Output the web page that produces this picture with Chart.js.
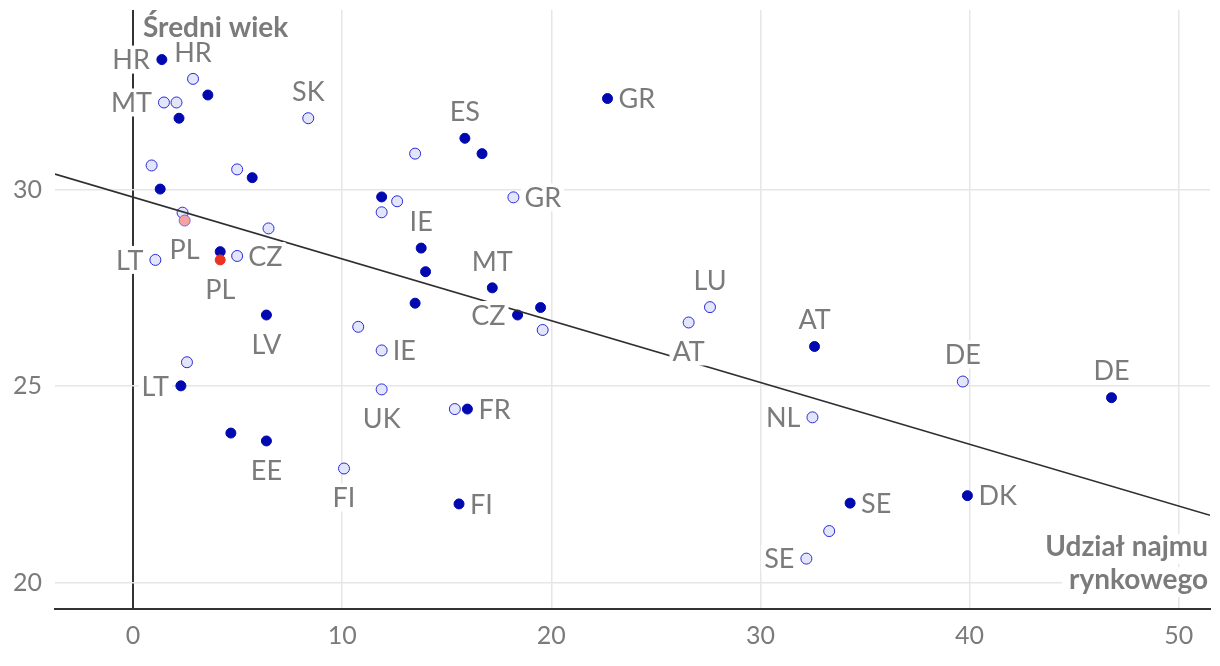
<!DOCTYPE html>
<html>
<head>
<meta charset="utf-8">
<script src="https://cdn.jsdelivr.net/npm/chart.js@4"></script>
<style>
  html, body { margin: 0; padding: 0; background: #ffffff; }
  #wrap { width: 1220px; height: 666px; position: relative; }
</style>
</head>
<body>
<div id="wrap"><canvas id="c"></canvas></div>
<script>
// ---- data ----
// series A (filled dots)
const filledX = [1.38, 3.58, 2.20, 5.70, 1.30, 11.89, 4.17, 6.38, 2.29, 4.68, 6.38, 15.87, 16.69, 22.69, 13.78, 13.99, 17.18, 13.49, 19.49, 18.39, 15.99, 15.59, 32.59, 46.79, 34.29, 39.90, 4.17];
const filledY = [33.30, 32.40, 31.81, 30.30, 30.01, 29.81, 28.42, 26.81, 25.01, 23.81, 23.61, 31.30, 30.91, 32.31, 28.51, 27.91, 27.50, 27.11, 27.00, 26.81, 24.42, 22.01, 26.01, 24.71, 22.03, 22.22, 28.21];
const filledLabels = ['HR', '', '', '', '', '', '', 'LV', 'LT', '', 'EE', 'ES', '', 'GR', 'IE', '', 'MT', '', '', 'CZ', 'FR', 'FI', 'AT', 'DE', 'SE', 'DK', 'PL'];
const filledLabelSide = ['left', '', '', '', '', '', '', 'below', 'left', '', 'below', 'above', '', 'right', 'above', '', 'above', '', '', 'left', 'right', 'right', 'above', 'above', 'right', 'right', 'below'];

// series B (hollow dots)
const hollowX = [2.87, 1.48, 2.08, 8.38, 0.89, 4.98, 12.63, 11.89, 2.37, 6.48, 4.98, 1.07, 10.77, 11.89, 2.58, 11.89, 10.09, 13.49, 18.19, 19.59, 15.39, 27.59, 26.57, 32.49, 39.68, 33.29, 32.20, 2.47];
const hollowY = [32.81, 32.21, 32.21, 31.81, 30.61, 30.51, 29.70, 29.42, 29.41, 29.01, 28.31, 28.21, 26.51, 25.91, 25.61, 24.92, 22.91, 30.91, 29.80, 26.43, 24.42, 27.01, 26.62, 24.21, 25.12, 21.32, 20.62, 29.21];
const hollowLabels = ['HR', 'MT', '', 'SK', '', '', '', '', '', '', 'CZ', 'LT', '', 'IE', '', 'UK', 'FI', '', 'GR', '', '', 'LU', 'AT', 'NL', 'DE', '', 'SE', 'PL'];
const hollowLabelSide = ['above', 'left', '', 'above', '', '', '', '', '', '', 'right', 'left', '', 'right', '', 'below', 'below', '', 'right', '', '', 'above', 'below', 'left', 'above', '', 'left', 'below'];

// trend line end points
const trendX = [-3.73, 51.5];
const trendY = [30.39, 21.72];

const highlightCountry = 'PL';
const yTitle = 'Średni wiek';
const xTitle = ['Udział najmu', 'rynkowego'];

// ---- styling ----
const FONT = 'Lato, "Open Sans", sans-serif';
const GREY = '#7b7b7b';

const toPoints = (xs, ys) => xs.map((x, i) => ({ x: x, y: ys[i] }));

const labelPlugin = {
  id: 'pointLabels',
  afterDatasetsDraw(chart) {
    const ctx = chart.ctx;
    ctx.save();
    ctx.font = '27px ' + FONT;
    const drawLabel = (text, x, y, align) => {
      ctx.textAlign = align;
      ctx.textBaseline = 'middle';
      const w = ctx.measureText(text).width;
      let left = align === 'left' ? x : align === 'right' ? x - w : x - w / 2;
      ctx.fillStyle = '#ffffff';
      ctx.fillRect(left - 3, y - 14, w + 6, 28);
      ctx.fillStyle = GREY;
      ctx.fillText(text, x, y + 1);
    };
    chart.data.datasets.forEach((ds, di) => {
      if (!ds.pointLabels) return;
      const meta = chart.getDatasetMeta(di);
      meta.data.forEach((el, i) => {
        const t = ds.pointLabels[i];
        if (!t) return;
        const side = ds.labelSide[i];
        const px = el.x, py = el.y;
        if (side === 'above') drawLabel(t, px, py - 27, 'center');
        else if (side === 'below') drawLabel(t, px, py + 29, 'center');
        else if (side === 'left') drawLabel(t, px - 12, py, 'right');
        else drawLabel(t, px + 11, py, 'left');
      });
    });
    // axis titles
    ctx.font = 'bold 28px ' + FONT;
    ctx.textBaseline = 'alphabetic';
    const ca = chart.chartArea;
    ctx.textAlign = 'left';
    ctx.fillStyle = GREY;
    ctx.fillText(yTitle, 143, 37);
    ctx.textAlign = 'right';
    const lines = xTitle;
    const base = [556, 589];
    lines.forEach((ln, k) => {
      const w = ctx.measureText(ln).width;
      ctx.fillStyle = '#ffffff';
      ctx.fillRect(ca.right - 2 - w - 7, base[k] - 22, w + 9, 30);
    });
    lines.forEach((ln, k) => {
      ctx.fillStyle = GREY;
      ctx.fillText(ln, ca.right - 2, base[k]);
    });
    ctx.restore();
  }
};

const isHi = (labels) => (c) => labels[c.dataIndex] === highlightCountry;

new Chart(document.getElementById('c'), {
  type: 'scatter',
  data: {
    datasets: [
      {
        type: 'line',
        data: toPoints(trendX, trendY),
        borderColor: '#2f2f2f',
        borderWidth: 1.6,
        pointRadius: 0,
        fill: false,
        order: 0
      },
      {
        data: toPoints(filledX, filledY),
        pointLabels: filledLabels,
        labelSide: filledLabelSide,
        backgroundColor: (c) => isHi(filledLabels)(c) ? '#ea3320' : '#0008b0',
        borderColor: (c) => isHi(filledLabels)(c) ? '#ea3320' : '#0008b0',
        borderWidth: 1,
        pointRadius: 5,
        pointHoverRadius: 5,
        order: 1
      },
      {
        data: toPoints(hollowX, hollowY),
        pointLabels: hollowLabels,
        labelSide: hollowLabelSide,
        backgroundColor: (c) => isHi(hollowLabels)(c) ? '#f6a2a2' : '#e3e6fb',
        borderColor: (c) => isHi(hollowLabels)(c) ? '#6a6ae6' : '#2a2ad6',
        borderWidth: 1,
        pointRadius: 5.5,
        pointHoverRadius: 5.5,
        order: 2
      }
    ]
  },
  options: {
    responsive: true,
    maintainAspectRatio: false,
    animation: false,
    events: [],
    layout: { padding: { top: 10, right: 10, left: 0, bottom: 0 } },
    plugins: { legend: { display: false }, tooltip: { enabled: false } },
    scales: {
      x: {
        type: 'linear',
        min: -3.73,
        max: 51.5,
        afterFit: (s) => { s.height = 57; s.paddingLeft = 0; s.paddingRight = 0; },
        ticks: { stepSize: 10, includeBounds: false, color: GREY, font: { family: FONT, size: 25 }, padding: 12 },
        grid: {
          drawTicks: false,
          color: (c) => c.tick && c.tick.value === 0 ? '#333333' : '#e6e6e6',
          lineWidth: (c) => c.tick && c.tick.value === 0 ? 2 : 1.5
        },
        border: { color: '#333333', width: 2 }
      },
      y: {
        type: 'linear',
        min: 19.34,
        max: 34.56,
        afterFit: (s) => { s.width = 55; s.paddingTop = 0; s.paddingBottom = 0; },
        ticks: { stepSize: 5, includeBounds: false, color: GREY, font: { family: FONT, size: 25 }, padding: 13 },
        grid: { drawTicks: false, color: '#e6e6e6', lineWidth: 1.5 },
        border: { display: false }
      }
    }
  },
  plugins: [labelPlugin]
});
</script>
</body>
</html>
